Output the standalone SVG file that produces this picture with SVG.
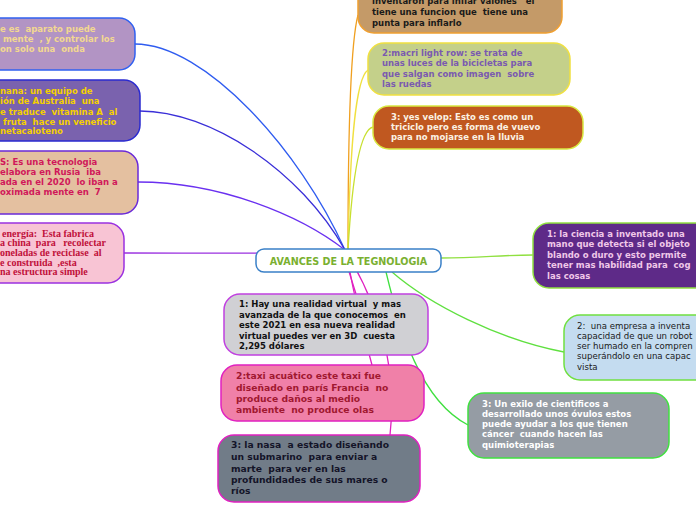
<svg xmlns="http://www.w3.org/2000/svg" width="696" height="520" viewBox="0 0 696 520">
<style>
.n{stroke-width:1.5}
text{white-space:pre}
.t{font-family:"DejaVu Sans",Verdana,sans-serif;font-weight:bold;font-size:8.5px}
.tb{font-family:"DejaVu Sans",Verdana,sans-serif;font-weight:bold;font-size:9.2px}
.tr{font-family:"DejaVu Sans",Verdana,sans-serif;font-size:8.6px}
.ts{font-family:"Liberation Serif","Times New Roman",serif;font-weight:bold;font-size:10px}
.c path{fill:none;stroke-width:1.3}
</style>
<rect width="696" height="520" fill="#ffffff"/>
<g id="connectors" class="c">
<path d="M135,44 C205,44 300,150 345,250" stroke="#2f5cf0"/>
<path d="M140,111 C210,111 300,170 345,250" stroke="#3a2fd8"/>
<path d="M138,182 C220,182 300,215 345,250" stroke="#6a30f0"/>
<path d="M124,253 C200,253 280,254 345,252" stroke="#9a30e0"/>
<path d="M348,250 C348,150 350,45 358,15" stroke="#f0a020"/>
<path d="M348,250 C350,150 355,78 368,70" stroke="#f0e040"/>
<path d="M348,250 C352,180 360,130 373,127" stroke="#c8e030"/>
<path d="M441,258 C480,258 500,255 533,255" stroke="#90e040"/>
<path d="M392,272 C430,305 500,340 564,352" stroke="#60e040"/>
<path d="M386,272 C400,330 420,400 468,425" stroke="#40e040"/>
<path d="M346,262 L356,294" stroke="#e020c0"/>
<path d="M348,262 C355,300 365,340 372,365" stroke="#e020c0"/>
<path d="M352,262 C385,320 397,380 390,435" stroke="#e020c0"/>
</g>
<g id="center">
<rect class="n" x="256" y="249" width="185" height="23" rx="8" fill="#ffffff" stroke="#3a80c8"/>
<text x="348.5" y="264.5" text-anchor="middle" font-family="DejaVu Sans,Verdana,sans-serif" font-weight="bold" font-size="9.6" fill="#7ab030">AVANCES DE LA TEGNOLOGIA</text>
</g>
<g id="node-l1">
<rect class="n" x="-20" y="18" width="155" height="52" rx="16" fill="#b294c4" stroke="#3060f0"/>
<text class="t" xml:space="preserve" fill="#f2d890"><tspan x="0" y="32">e es  aparato puede</tspan><tspan x="0" y="42"> mente  , y controlar los</tspan><tspan x="0" y="52">on solo una  onda</tspan></text>
</g>
<g id="node-l2">
<rect class="n" x="-20" y="80" width="160" height="61" rx="16" fill="#7a62ae" stroke="#2a2ad0"/>
<text class="t" xml:space="preserve" fill="#f5d000"><tspan x="0" y="94">nana: un equipo de</tspan><tspan x="0" y="104">ión de Australia  una</tspan><tspan x="0" y="114.5">e traduce  vitamina A  al</tspan><tspan x="0" y="124.5"> fruta  hace un veneficio</tspan><tspan x="0" y="134">netacaloteno</tspan></text>
</g>
<g id="node-l3">
<rect class="n" x="-20" y="151" width="158" height="63" rx="16" fill="#e4c0a0" stroke="#6a2ad8"/>
<text class="t" xml:space="preserve" fill="#d0185a"><tspan x="0" y="164.5">S: Es una tecnologia</tspan><tspan x="0" y="174.5">elabora en Rusia  iba</tspan><tspan x="0" y="184.5">ada en el 2020  lo iban a</tspan><tspan x="0" y="195">oximada mente en  7</tspan></text>
</g>
<g id="node-l4">
<rect class="n" x="-20" y="223" width="144" height="60" rx="16" fill="#f8c4d4" stroke="#9a30e0"/>
<text class="ts" xml:space="preserve" fill="#c0103a"><tspan x="2" y="236.5">energía:  Esta fabrica</tspan><tspan x="0" y="246">a china  para   recolectar</tspan><tspan x="0" y="256">oneladas de reciclase  al</tspan><tspan x="0" y="265.5">e construida  ,esta</tspan><tspan x="0" y="275">na estructura simple</tspan></text>
</g>
<g id="node-t1">
<rect class="n" x="358" y="-20" width="204" height="53" rx="16" fill="#c49a68" stroke="#f0a030"/>
<text class="t" xml:space="preserve" fill="#1a1a1a"><tspan x="372" y="4">inventaron para inflar valones   el</tspan><tspan x="372" y="15">tiene una funcion que  tiene una</tspan><tspan x="372" y="25.5">punta para inflarlo</tspan></text>
</g>
<g id="node-t2">
<rect class="n" x="368" y="43" width="202" height="52" rx="16" fill="#c4d08a" stroke="#f0e040"/>
<text class="t" xml:space="preserve" fill="#7a5ab0"><tspan x="382" y="56">2:macri light row: se trata de</tspan><tspan x="382" y="66">unas luces de la bicicletas para</tspan><tspan x="382" y="76.5">que salgan como imagen  sobre</tspan><tspan x="382" y="86.5">las ruedas</tspan></text>
</g>
<g id="node-t3">
<rect class="n" x="373" y="106" width="210" height="43" rx="16" fill="#c05820" stroke="#d8e840"/>
<text class="t" xml:space="preserve" fill="#fbf2e4"><tspan x="391" y="119.5">3: yes velop: Esto es como un</tspan><tspan x="391" y="129.5">triciclo pero es forma de vuevo</tspan><tspan x="391" y="139.5">para no mojarse en la lluvia</tspan></text>
</g>
<g id="node-r1">
<rect class="n" x="533" y="223" width="185" height="65" rx="16" fill="#5e2a88" stroke="#90e040"/>
<text class="t" xml:space="preserve" fill="#f0c8e8"><tspan x="547" y="237">1: la ciencia a inventado una</tspan><tspan x="547" y="247">mano que detecta si el objeto</tspan><tspan x="547" y="257.5">blando o duro y esto permite</tspan><tspan x="547" y="268">tener mas habilidad para  cog</tspan><tspan x="547" y="279">las cosas</tspan></text>
</g>
<g id="node-r2">
<rect class="n" x="564" y="315" width="155" height="65" rx="16" fill="#c4dcf0" stroke="#70e040"/>
<text class="tr" xml:space="preserve" fill="#1a1a1a"><tspan x="577" y="329">2:  una empresa a inventa</tspan><tspan x="577" y="339">capacidad de que un robot</tspan><tspan x="577" y="349">ser humado en la compren</tspan><tspan x="577" y="359">superándolo en una capac</tspan><tspan x="577" y="370">vista</tspan></text>
</g>
<g id="node-r3">
<rect class="n" x="468" y="393" width="201" height="65" rx="16" fill="#959ca4" stroke="#40e040"/>
<text class="t" xml:space="preserve" fill="#ffffff"><tspan x="482" y="407">3: Un exilo de cientificos a</tspan><tspan x="482" y="417">desarrollado unos óvulos estos</tspan><tspan x="482" y="427">puede ayudar a los que tienen</tspan><tspan x="482" y="437">cáncer  cuando hacen las</tspan><tspan x="482" y="448">quimioterapias</tspan></text>
</g>
<g id="node-b1">
<rect class="n" x="224" y="294" width="204" height="61" rx="16" fill="#d0d0d4" stroke="#c040e0"/>
<text class="t" xml:space="preserve" fill="#111111"><tspan x="239" y="307">1: Hay una realidad virtual  y mas</tspan><tspan x="239" y="317.5">avanzada de la que conocemos  en</tspan><tspan x="239" y="328">este 2021 en esa nueva realidad</tspan><tspan x="239" y="338.5">virtual puedes ver en 3D  cuesta</tspan><tspan x="239" y="349">2,295 dólares</tspan></text>
</g>
<g id="node-b2">
<rect class="n" x="221" y="365" width="203" height="56" rx="16" fill="#f080a8" stroke="#e020c0"/>
<text class="tb" xml:space="preserve" fill="#a01830"><tspan x="236" y="379">2:taxi acuático este taxi fue</tspan><tspan x="236" y="390.5">diseñado en parís Francia  no</tspan><tspan x="236" y="402">produce daños al medio</tspan><tspan x="236" y="413">ambiente  no produce olas</tspan></text>
</g>
<g id="node-b3">
<rect class="n" x="218" y="435" width="202" height="67" rx="16" fill="#717c88" stroke="#e020c0"/>
<text class="tb" xml:space="preserve" fill="#141428"><tspan x="231" y="448">3: la nasa  a estado diseñando</tspan><tspan x="231" y="460">un submarino  para enviar a</tspan><tspan x="231" y="471.5">marte  para ver en las</tspan><tspan x="231" y="483">profundidades de sus mares o</tspan><tspan x="231" y="494">ríos</tspan></text>
</g>
</svg>
